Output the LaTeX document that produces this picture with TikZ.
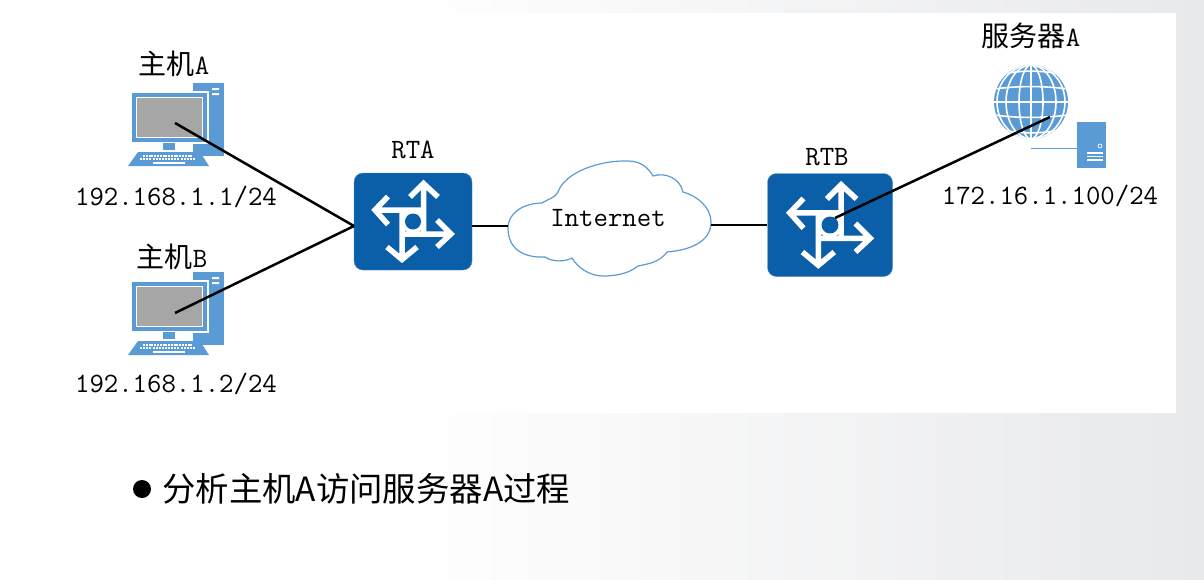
\documentclass[tikz,border=0pt]{standalone}
\usepackage{fontspec}
\newfontfamily\cjk{Noto Sans CJK SC}
\definecolor{iconblue}{HTML}{5B9BD5}
\definecolor{routerblue}{HTML}{0B5FA8}
\definecolor{screengray}{HTML}{A6A6A6}
\definecolor{pagegray}{HTML}{E8E9EB}

\begin{document}
\begin{tikzpicture}[
  x=1pt, y=-1pt,
  lab/.style={font=\fontsize{28}{30}\selectfont\ttfamily, inner sep=0pt, text=black},
  link/.style={line width=2.5pt, black},
  routerbox/.style={fill=routerblue, draw=routerblue!70, rounded corners=9pt, inner sep=0pt},
  router/.pic={
    \draw[white, line width=5.5pt, line join=miter]
      (10.5,-38) -- (10.5,10)   (-3,-24.5) -- (10.5,-38) -- (25,-24.5)
      (-38,-11.5) -- (10,-11.5) (-25,-25) -- (-38,-11.5) -- (-25,3)
      (38,12.5) -- (-10,12.5)   (24,-1.5) -- (38,12.5) -- (24,25.5)
      (-11,38) -- (-11,-10)     (-26,25.5) -- (-11,38) -- (4,25.5);
    \fill[white] (0,0) circle (12);
    \fill[routerblue] (0,0) circle (8);
  },
  host/.pic={
    \fill[iconblue] (18,-41) rectangle (49,32);
    \fill[white] (37,-36) rectangle (44,-34) (37,-31) rectangle (44,-29);
    \fill[white] (-45,-33) rectangle (34,20);
    \fill[iconblue] (-43,-31) rectangle (32,18);
    \fill[white] (-39,-27) rectangle (28,14);
    \fill[screengray] (-38,-26) rectangle (27,13);
    \fill[iconblue] (-12,19) rectangle (0,26);
    \fill[iconblue] (-37,28) -- (25,28) -- (34,42) -- (-47,42) -- cycle;
    \foreach \row/\wd in {31/25, 34/28} \foreach \k in {-9,...,8}
      \fill[white] (\k*\wd/9-6-0.9,\row) rectangle ++(2,1.8);
    \fill[white] (-22,38) rectangle (10,40);
  },
  globe/.pic={
    \fill[iconblue] (0,0) circle (37);
    \begin{scope}
      \clip (0,0) circle (37);
      \foreach \rx in {12,25,34} \draw[white, line width=1.6pt] (0,0) ellipse ({\rx} and 37);
      \draw[white, line width=1.6pt] (0,-37) -- (0,37);
      \foreach \yy in {-26,-13,0,13,26}
        \draw[white, line width=1.6pt] (-37,\yy) .. controls (-12,\yy+\yy*0.25) and (12,\yy+\yy*0.25) .. (37,\yy);
    \end{scope}
  }
]
  % page and white panel
  \fill[white] (0,0) rectangle (1204,579);
  \fill[left color=white, right color=pagegray] (400,0) rectangle (1204,579);
  \fill[white] (57,13) rectangle (1176,413);

  % hosts
  \pic at (175,124) {host};
  \pic at (175,313) {host};
  \coordinate (screenA) at (175,123);
  \coordinate (screenB) at (175,313);
  \node[lab] (nameA) at (174,64) {{\cjk 主机}A};
  \node[lab] (ipA) at (176,197) {192.168.1.1/24};
  \node[lab] (nameB) at (172,257) {{\cjk 主机}B};
  \node[lab] (ipB) at (176,384) {192.168.1.2/24};

  % routers
  \node[routerbox, minimum width=118pt, minimum height=97pt] (rta) at (413,221.5) {};
  \pic at (rta) {router};
  \node[lab] (rtalabel) at (413,150) {RTA};
  \coordinate (rtaleft) at (354,226);
  \coordinate (rtaright) at (472,226);
  \node[routerbox, minimum width=125pt, minimum height=103pt] (rtb) at (830,225) {};
  \pic[scale=1.06] at (rtb) {router};
  \node[lab] (rtblabel) at (827,157) {RTB};
  \coordinate (rtbport) at (835,218);

  % cloud
  \draw[iconblue, line width=1.2pt, fill=white]
    (508,228) .. controls (508,212) and (525,203) .. (542,203)
    .. controls (548,199) and (555,198) .. (558,192)
    .. controls (565,172) and (600,160) .. (628,161)
    .. controls (640,161) and (648,167) .. (653,176)
    .. controls (665,172) and (680,178) .. (683,192)
    .. controls (698,196) and (711,208) .. (711,222)
    .. controls (711,242) and (690,250) .. (667,252)
    .. controls (660,262) and (648,264) .. (638,266)
    .. controls (628,274) and (615,276) .. (603,276)
    .. controls (590,276) and (578,268) .. (572,258)
    .. controls (565,262) and (552,262) .. (545,257)
    .. controls (525,258) and (508,250) .. (508,228) -- cycle;
  \node[lab] (inet) at (608,218) {Internet};
  \coordinate (inetleft) at (508,226);
  \coordinate (inetright) at (711,225);

  % server
  \pic at (1031,102) {globe};
  \coordinate (globeport) at (1050,117);
  \node[fill=iconblue, minimum width=29pt, minimum height=46pt, inner sep=0pt] (srv) at (1091.5,145) {};
  \coordinate (srvtail) at (1031,148);
  \draw[iconblue, line width=1pt] (srvtail) -- (srv.west |- srvtail);
  \draw[white, line width=0.7pt] (1100,146) circle (2);
  \foreach \yy in {153,156.5,160} \draw[white, line width=1.3pt] (1087,\yy) -- (1103,\yy);
  \node[lab] (srvname) at (1031,36) {{\cjk 服务器}A};
  \node[lab] (srvip) at (1050,196) {172.16.1.100/24};

  % links
  \draw[link] (screenA) -- (rtaleft);
  \draw[link] (screenB) -- (rtaleft);
  \draw[link] (rtaright) -- (inetleft);
  \draw[link] (inetright) -- (rtb.west);
  \draw[link] (rtbport) -- (globeport);

  % bullet line
  \node[circle, fill=black, minimum size=18pt, inner sep=0pt] (dot) at (142,489) {};
  \node[font=\fontsize{33.4}{36}\selectfont\cjk, anchor=west, inner sep=0pt] (caption) at (162,489) {分析主机A访问服务器A过程};
\end{tikzpicture}
\end{document}
